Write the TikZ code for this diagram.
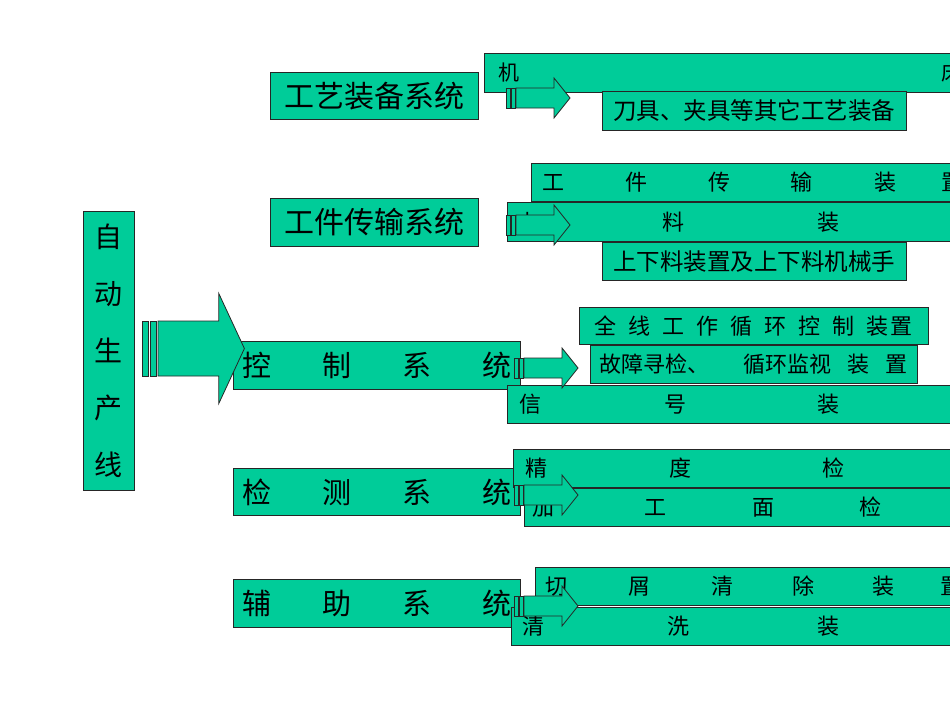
\documentclass[tikz,border=0pt]{standalone}
\usepackage{fontspec}
\newfontfamily\cjk{Noto Sans CJK SC}
\usetikzlibrary{
  calc % Für Koordinatenberechnungen
}
\definecolor{gruen}{HTML}{00CC99}

\begin{document}
\begin{tikzpicture}[
      x=1pt, y=-1pt, % Pixelmaße
      box/.style={draw=black!85, fill=gruen, line width=0.9pt, inner sep=0pt, anchor=north west},
      gross/.style={font=\cjk\fontsize{30}{36}\selectfont},
      klein/.style={font=\cjk\fontsize{22}{26}\selectfont},
      pfeilteil/.style={draw=black!85, fill=gruen, line width=0.8pt},
      pics/pfeil/.style={code={
        \filldraw[pfeilteil] (0,-10) rectangle (4,10);
        \filldraw[pfeilteil] (5,-10) rectangle (9,10);
        \filldraw[pfeilteil] (10,-10) -- (48,-10) -- (48,-20) -- (64,0)
          -- (48,20) -- (48,10) -- (10,10) -- cycle;
      }},
    ]
    \useasboundingbox (0,0) rectangle (950,713);
    \clip (0,0) rectangle (950,713);
    % Koordinaten der Pfeile
    \coordinate (p0) at (142,348.5);
    \coordinate (p1) at (506,98);
    \coordinate (p2) at (506,225);
    \coordinate (p3) at (514,368);
    \coordinate (p4) at (514,495);
    \coordinate (p5) at (514,606);

    % Linie
    \node[box, gross, font=\cjk\fontsize{28}{57}\selectfont, align=center,
      minimum width=51, minimum height=279] (linie) at (83,211)
      {自\\动\\生\\产\\线};

    % Zeile 1
    \node[box, gross, minimum width=208, minimum height=47] (s1) at (270,72) {工艺装备系统};
    \node[box, minimum width=476, minimum height=39] (b11) at (484,53) {};
    \node[klein, font=\cjk\fontsize{21}{25}\selectfont, anchor=west] (t11)
      at ([xshift=11]b11.west) {机\hspace{422pt}床};
    \node[box, klein, font=\cjk\fontsize{23.5}{28}\selectfont, minimum width=304, minimum height=39]
      (b12) at (602,91) {刀具、夹具等其它工艺装备};
    \pic at (p1) {pfeil};

    % Zeile 2
    \node[box, gross, minimum width=208, minimum height=48] (s2) at (270,198) {工件传输系统};
    \node[box, minimum width=429, minimum height=38] (b21) at (531,163) {};
    \node[klein, anchor=west] (t21) at ([xshift=8]b21.west)
      {工\hspace{61pt}件\hspace{61pt}传\hspace{60pt}输\hspace{62pt}装\hspace{45pt}置};
    \node[box, minimum width=453, minimum height=39] (b22) at (507,202) {};
    \node[klein, anchor=west] (t22) at ([xshift=7]b22.west)
      {上\hspace{123pt}料\hspace{133pt}装\hspace{133pt}置};
    \node[box, klein, font=\cjk\fontsize{23.5}{28}\selectfont, minimum width=304, minimum height=38]
      (b23) at (602,242) {上下料装置及上下料机械手};
    \pic at (p2) {pfeil};

    % Zeile 3
    \node[box, gross, font=\cjk\fontsize{29}{34}\selectfont, minimum width=287, minimum height=48]
      (s3) at (233,341) {控\hspace{51pt}制\hspace{51pt}系\hspace{51pt}统};
    \node[box, klein, minimum width=349, minimum height=37] (b31) at (579,307)
      {全\hspace{12pt}线\hspace{12pt}工\hspace{12pt}作\hspace{12pt}循\hspace{12pt}环\hspace{12pt}控\hspace{12pt}制\hspace{12pt}装\hspace{2pt}置};
    \node[box, klein, minimum width=327, minimum height=38] (b32) at (590,345)
      {故障寻检、\hspace{34pt}循环监视\hspace{16pt}装\hspace{16pt}置};
    \node[box, minimum width=453, minimum height=38] (b33) at (507,385) {};
    \node[klein, anchor=west] (t33) at ([xshift=9]b33.west)
      {信\hspace{123pt}号\hspace{131pt}装\hspace{131pt}置};
    \pic at (p3) {pfeil};

    % Zeile 4
    \node[box, gross, font=\cjk\fontsize{29}{34}\selectfont, minimum width=287, minimum height=47]
      (s4) at (233,468) {检\hspace{51pt}测\hspace{51pt}系\hspace{51pt}统};
    \node[box, minimum width=447, minimum height=38] (b41) at (513,449) {};
    \node[klein, anchor=west] (t41) at ([xshift=9]b41.west)
      {精\hspace{122pt}度\hspace{131pt}检\hspace{131pt}测};
    \node[box, minimum width=436, minimum height=38] (b42) at (524,488) {};
    \node[klein, anchor=west] (t42) at ([xshift=5]b42.west)
      {加\hspace{90pt}工\hspace{86pt}面\hspace{85pt}检\hspace{86pt}测};
    \pic at (p4) {pfeil};

    % Zeile 5
    \node[box, gross, font=\cjk\fontsize{29}{34}\selectfont, minimum width=287, minimum height=48]
      (s5) at (233,579) {辅\hspace{51pt}助\hspace{51pt}系\hspace{51pt}统};
    \node[box, minimum width=425, minimum height=38] (b51) at (535,567) {};
    \node[klein, anchor=west] (t51) at ([xshift=7]b51.west)
      {切\hspace{61pt}屑\hspace{61pt}清\hspace{59pt}除\hspace{58pt}装\hspace{46pt}置};
    \node[box, minimum width=449, minimum height=38] (b52) at (511,607) {};
    \node[klein, anchor=west] (t52) at ([xshift=8]b52.west)
      {清\hspace{123pt}洗\hspace{128pt}装\hspace{128pt}置};
    \pic at (p5) {pfeil};

    % großer Pfeil
    \pic[xscale=1.6, yscale=2.75] at (p0) {pfeil};

  \end{tikzpicture}
\end{document}
